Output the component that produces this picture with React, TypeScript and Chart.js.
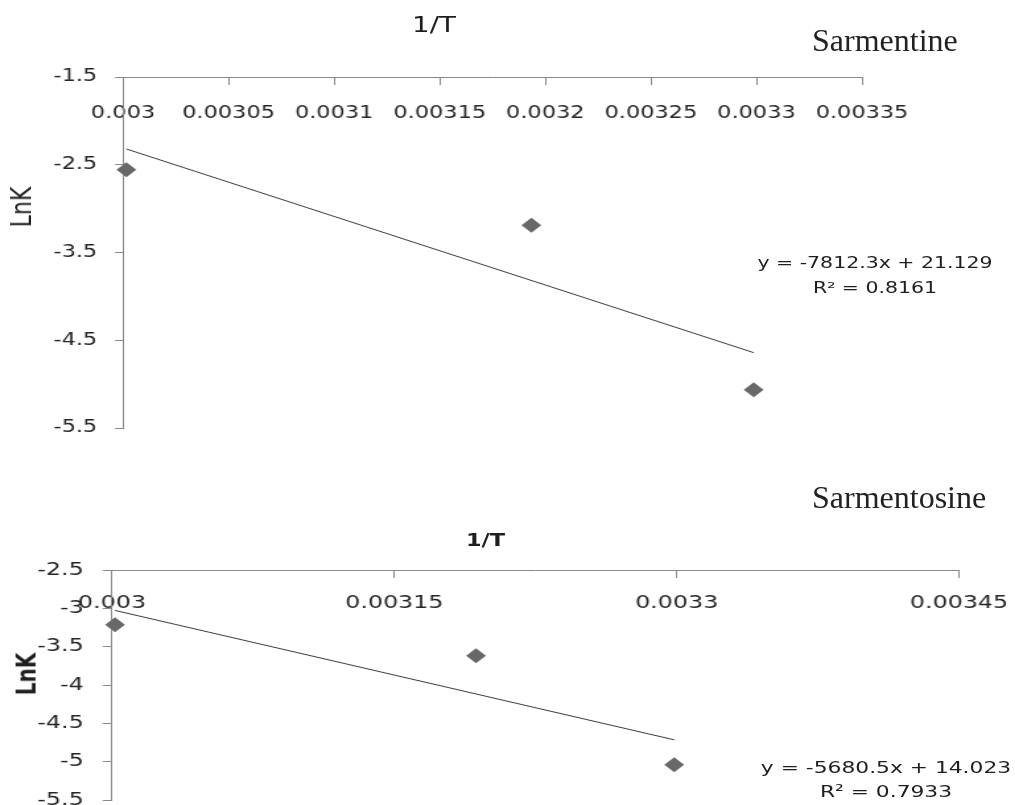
import { useEffect, useRef } from "react";
import { Chart, registerables } from "chart.js";

Chart.register(...registerables);

// ---------- DATA ----------
const invT = [0.0030016, 0.0031934, 0.0032987];
const lnKSarmentine = [-2.557, -3.19, -5.064];
const lnKSarmentosine = [-3.214, -3.617, -5.04];

const fitSarmentineSlope = -7812.3;
const fitSarmentineIntercept = 21.129;
const fitSarmentosineSlope = -5680.5;
const fitSarmentosineIntercept = 14.023;

const eqSarmentine = "y = -7812.3x + 21.129";
const r2Sarmentine = "R² = 0.8161";
const eqSarmentosine = "y = -5680.5x + 14.023";
const r2Sarmentosine = "R² = 0.7933";

const xTicksTop = [0.003, 0.00305, 0.0031, 0.00315, 0.0032, 0.00325, 0.0033, 0.00335];
const yTicksTop = [-1.5, -2.5, -3.5, -4.5, -5.5];
const xTicksBottom = [0.003, 0.00315, 0.0033, 0.00345];
const yTicksBottom = [-2.5, -3, -3.5, -4, -4.5, -5, -5.5];

const xTitle = "1/T";
const yTitle = "LnK";
const titleTop = "Sarmentine";
const titleBottom = "Sarmentosine";

// ---------- LAYOUT ----------
const S = 1.32; // horizontal stretch of the original picture
const VW = 1015 / S;
const CW = 880; // canvas width (virtual), clipped by the outer frame
const FONT = "'DejaVu Sans', Verdana, sans-serif";

type PanelProps = {
  top: number;
  height: number;
  xs: number[];
  ys: number[];
  slope: number;
  intercept: number;
  xTicks: number[];
  yTicks: number[];
  axisLeft: number;
  pad: { right: number; top: number; bottom: number };
  fontSize: number;
  xPad: number;
  yPad: number;
  yTick: number;
};

function Panel(p: PanelProps) {
  const ref = useRef<HTMLCanvasElement>(null);
  useEffect(() => {
    const xMin = p.xTicks[0];
    const xMax = p.xTicks[p.xTicks.length - 1];
    const yMin = Math.min(...p.yTicks);
    const yMax = Math.max(...p.yTicks);
    const fitXs = [Math.min(...p.xs), Math.max(...p.xs)];
    const font = { family: FONT, size: p.fontSize };
    const chart = new Chart(ref.current as HTMLCanvasElement, {
      type: "scatter",
      data: {
        datasets: [
          {
            data: p.xs.map((x, i) => ({ x, y: p.ys[i] })),
            pointStyle: "rectRot",
            pointRadius: 7.5,
            backgroundColor: "#686868",
            borderWidth: 0,
            clip: false,
            order: 1,
          } as any,
          {
            data: fitXs.map((x) => ({ x, y: p.slope * x + p.intercept })),
            showLine: true,
            pointRadius: 0,
            borderColor: "#3a3a3a",
            borderWidth: 1,
            clip: false,
            order: 2,
          } as any,
        ],
      },
      options: {
        responsive: false,
        animation: false,
        devicePixelRatio: 1,
        layout: { padding: { left: 0, right: p.pad.right, top: p.pad.top, bottom: p.pad.bottom } },
        plugins: { legend: { display: false }, tooltip: { enabled: false } },
        scales: {
          x: {
            type: "linear",
            min: xMin,
            max: xMax,
            position: { y: yMax } as any,
            afterBuildTicks: (s: any) => {
              s.ticks = p.xTicks.map((v) => ({ value: v }));
            },
            ticks: {
              callback: (v: any) => String(v),
              font,
              color: "#262626",
              padding: p.xPad,
              maxRotation: 0,
              autoSkip: false,
            },
            grid: { drawOnChartArea: false, drawTicks: true, tickLength: 7, color: "#888" },
            border: { display: true, color: "#888", width: 1 },
          },
          y: {
            type: "linear",
            min: yMin,
            max: yMax,
            position: "left",
            afterBuildTicks: (s: any) => {
              s.ticks = p.yTicks.map((v) => ({ value: v }));
            },
            afterFit: (s: any) => {
              s.width = p.axisLeft;
            },
            ticks: {
              callback: (v: any) => String(v),
              font,
              color: "#262626",
              padding: p.yPad,
              autoSkip: false,
            },
            grid: { drawOnChartArea: false, drawTicks: true, tickLength: p.yTick, color: "#888" },
            border: { display: true, color: "#888", width: 1 },
          },
        },
      },
    });
    return () => chart.destroy();
  }, []);
  return (
    <canvas
      ref={ref}
      width={CW}
      height={p.height}
      style={{ position: "absolute", left: 0, top: p.top, width: CW, height: p.height }}
    />
  );
}

function Label(props: {
  text: string;
  x: number;
  y: number;
  size: number;
  bold?: boolean;
  rotate?: boolean;
}) {
  return (
    <div
      style={{
        position: "absolute",
        left: props.x,
        top: props.y,
        transform: `translate(-50%, -50%)${props.rotate ? " rotate(-90deg)" : ""}`,
        fontFamily: FONT,
        fontSize: props.size,
        fontWeight: props.bold ? "bold" : "normal",
        color: "#1e1e1e",
        whiteSpace: "nowrap",
        lineHeight: 1.2,
      }}
    >
      {props.text}
    </div>
  );
}

export default function App() {
  const VL = Math.round(VW);
  return (
    <div
      style={{
        position: "absolute",
        left: 0,
        top: 0,
        width: 1015,
        height: 805,
        overflow: "hidden",
        background: "#fff",
      }}
    >
      <div
        style={{
          position: "absolute",
          left: 0,
          top: 0,
          width: VL,
          height: 805,
          transform: `scaleX(${S})`,
          transformOrigin: "0 0",
        }}
      >
        <Panel
          top={0}
          height={470}
          xs={invT}
          ys={lnKSarmentine}
          slope={fitSarmentineSlope}
          intercept={fitSarmentineIntercept}
          xTicks={xTicksTop}
          yTicks={yTicksTop}
          axisLeft={123 / S}
          pad={{ right: CW - 862 / S, top: 77, bottom: 42 }}
          fontSize={17}
          xPad={19}
          yPad={13.5}
          yTick={6}
        />
        <Panel
          top={470}
          height={390}
          xs={invT}
          ys={lnKSarmentosine}
          slope={fitSarmentosineSlope}
          intercept={fitSarmentosineIntercept}
          xTicks={xTicksBottom}
          yTicks={yTicksBottom}
          axisLeft={112 / S}
          pad={{ right: CW - 959 / S, top: 100, bottom: 60 }}
          fontSize={18}
          xPad={16}
          yPad={14.5}
          yTick={7}
        />
        <Label text={xTitle} x={434 / S} y={26} size={21} />
        <Label text={yTitle} x={23 / S} y={207} size={22} rotate />
        <Label text={eqSarmentine} x={875 / S} y={263} size={15.5} />
        <Label text={r2Sarmentine} x={875 / S} y={288} size={15.5} />

        <Label text={xTitle} x={485.5 / S} y={540} size={17} bold />
        <Label text={yTitle} x={27 / S} y={674} size={20} bold rotate />
        <Label text={eqSarmentosine} x={886 / S} y={768} size={16.5} />
        <Label text={r2Sarmentosine} x={886 / S} y={792} size={16.5} />
      </div>
      <div
        style={{
          position: "absolute",
          left: 812,
          top: 24,
          fontFamily: "'Liberation Serif', 'Times New Roman', serif",
          fontSize: 32,
          lineHeight: "32px",
          color: "#222",
          whiteSpace: "nowrap",
        }}
      >
        {titleTop}
      </div>
      <div
        style={{
          position: "absolute",
          left: 812,
          top: 481,
          fontFamily: "'Liberation Serif', 'Times New Roman', serif",
          fontSize: 32,
          lineHeight: "32px",
          color: "#222",
          whiteSpace: "nowrap",
        }}
      >
        {titleBottom}
      </div>
    </div>
  );
}
